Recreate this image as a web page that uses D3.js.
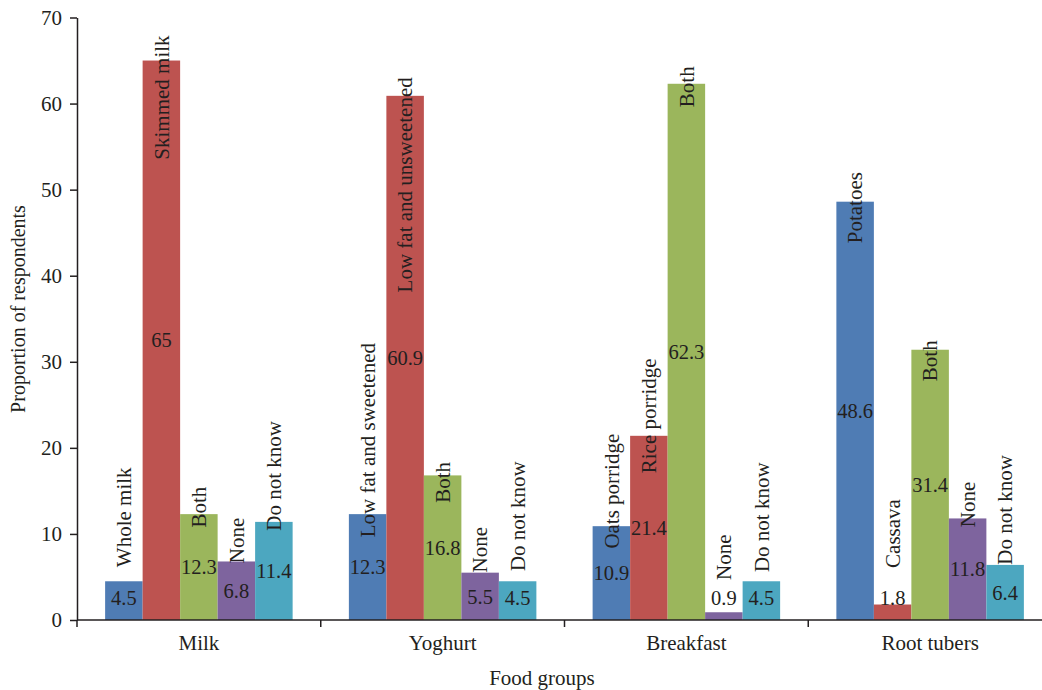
<!DOCTYPE html>
<html>
<head>
<meta charset="utf-8">
<script src="https://cdn.jsdelivr.net/npm/d3@7/dist/d3.min.js"></script>
<style>
  html, body { margin: 0; padding: 0; background: #fff; }
  svg { display: block; }
  text { font-family: "Liberation Serif", "DejaVu Serif", serif; fill: #231f20; }
</style>
</head>
<body>
<svg id="chart" width="1042" height="690"></svg>
<script>
// Food groups on the x axis
const categories = ["Milk", "Yoghurt", "Breakfast", "Root tubers"];

// Answer option names shown on each bar, per food group
const optionNames = [
  ["Whole milk", "Skimmed milk", "Both", "None", "Do not know"],
  ["Low fat and sweetened", "Low fat and unsweetened", "Both", "None", "Do not know"],
  ["Oats porridge", "Rice porridge", "Both", "None", "Do not know"],
  ["Potatoes", "Cassava", "Both", "None", "Do not know"]
];

// Proportion of respondents (%) for each option, per food group
const milkValues      = [4.5, 65, 12.3, 6.8, 11.4];
const yoghurtValues   = [12.3, 60.9, 16.8, 5.5, 4.5];
const breakfastValues = [10.9, 21.4, 62.3, 0.9, 4.5];
const rootValues      = [48.6, 1.8, 31.4, 11.8, 6.4];
const values = [milkValues, yoghurtValues, breakfastValues, rootValues];

// Y axis tick values
const yTicks = [0, 10, 20, 30, 40, 50, 60, 70];

// Layout and style settings
const seriesColors = ["#4f7cb4", "#bd5350", "#9bb65c", "#7e649e", "#4ca7c0"];
// Vertical shift (px) of each rotated option name, relative to its bar top
const nameShift = [
  [-64, 37, -7, -21, -46],
  [-74, 89, 7, -23, -65],
  [-35, -20, 3, -55, -64],
  [6, -71, 11, -14, -55]
];

const svg = d3.select("#chart");
const plotLeft = 77, plotRight = 1052, plotTop = 17.5, plotBottom = 620;

const x0 = d3.scaleBand().domain(categories).range([plotLeft, plotRight]).padding(0);
const x1 = d3.scaleBand().domain(d3.range(5))
  .range([0, x0.bandwidth()]).paddingInner(0).paddingOuter(0.75);
const y = d3.scaleLinear().domain([0, 70]).range([plotBottom, plotTop]);

const rows = categories.map((c, i) => ({ cat: c, vals: values[i], names: optionNames[i], idx: i }));

// Bars
const groups = svg.selectAll("g.grp").data(rows).join("g")
  .attr("class", "grp")
  .attr("transform", d => `translate(${x0(d.cat)},0)`);

groups.selectAll("rect").data(d => d.vals.map((v, j) => ({ v, j }))).join("rect")
  .attr("x", d => x1(d.j))
  .attr("width", x1.bandwidth())
  .attr("y", d => y(d.v))
  .attr("height", d => y(0) - y(d.v))
  .attr("fill", d => seriesColors[d.j]);

// Value labels, centred in the bar but kept above the axis
groups.selectAll("text.val").data(d => d.vals.map((v, j) => ({ v, j }))).join("text")
  .attr("class", "val")
  .attr("x", d => x1(d.j) + x1.bandwidth() / 2)
  .attr("y", d => Math.min((y(d.v) + y(0)) / 2, 598))
  .attr("dy", "0.35em")
  .attr("text-anchor", "middle")
  .attr("font-size", 20.5)
  .text(d => String(d.v));

// Rotated option names
groups.selectAll("text.name").data(d => d.vals.map((v, j) => ({ v, j, name: d.names[j], shift: nameShift[d.idx][j] }))).join("text")
  .attr("class", "name")
  .attr("transform", d => `translate(${x1(d.j) + x1.bandwidth() / 2},${y(d.v) + d.shift}) rotate(-90)`)
  .attr("dy", "0.35em")
  .attr("text-anchor", "middle")
  .attr("font-size", 21)
  .text(d => d.name);

// Y axis
const yAxis = svg.append("g")
  .attr("transform", `translate(${plotLeft},0)`)
  .call(d3.axisLeft(y).tickValues(yTicks).tickSize(7).tickPadding(8).tickSizeOuter(0));
yAxis.select(".domain").attr("stroke", "#231f20").attr("stroke-width", 1.5);
yAxis.selectAll(".tick line").attr("stroke", "#231f20").attr("stroke-width", 1.5);
yAxis.selectAll(".tick text").attr("font-size", 21).attr("font-family", "Liberation Serif, serif").attr("fill", "#231f20");

// X axis: baseline, tick marks at group boundaries, centred category names
const xAxis = svg.append("g");
xAxis.append("line")
  .attr("x1", plotLeft).attr("x2", plotRight).attr("y1", y(0)).attr("y2", y(0))
  .attr("stroke", "#231f20").attr("stroke-width", 1.5);
const bounds = categories.map(c => x0(c)).concat([plotRight]);
xAxis.selectAll("line.tk").data(bounds).join("line")
  .attr("class", "tk")
  .attr("x1", d => d).attr("x2", d => d)
  .attr("y1", y(0)).attr("y2", y(0) + 7)
  .attr("stroke", "#231f20").attr("stroke-width", 1.5);
xAxis.selectAll("text").data(categories).join("text")
  .attr("x", d => x0(d) + x0.bandwidth() / 2)
  .attr("y", 650)
  .attr("text-anchor", "middle")
  .attr("font-size", 21)
  .text(d => d);

// Axis titles
svg.append("text")
  .attr("x", 542)
  .attr("y", 685)
  .attr("text-anchor", "middle")
  .attr("font-size", 21)
  .text("Food groups");

svg.append("text")
  .attr("transform", "translate(18,309) rotate(-90)")
  .attr("dy", "0.35em")
  .attr("text-anchor", "middle")
  .attr("font-size", 20)
  .text("Proportion of respondents");
</script>
</body>
</html>
